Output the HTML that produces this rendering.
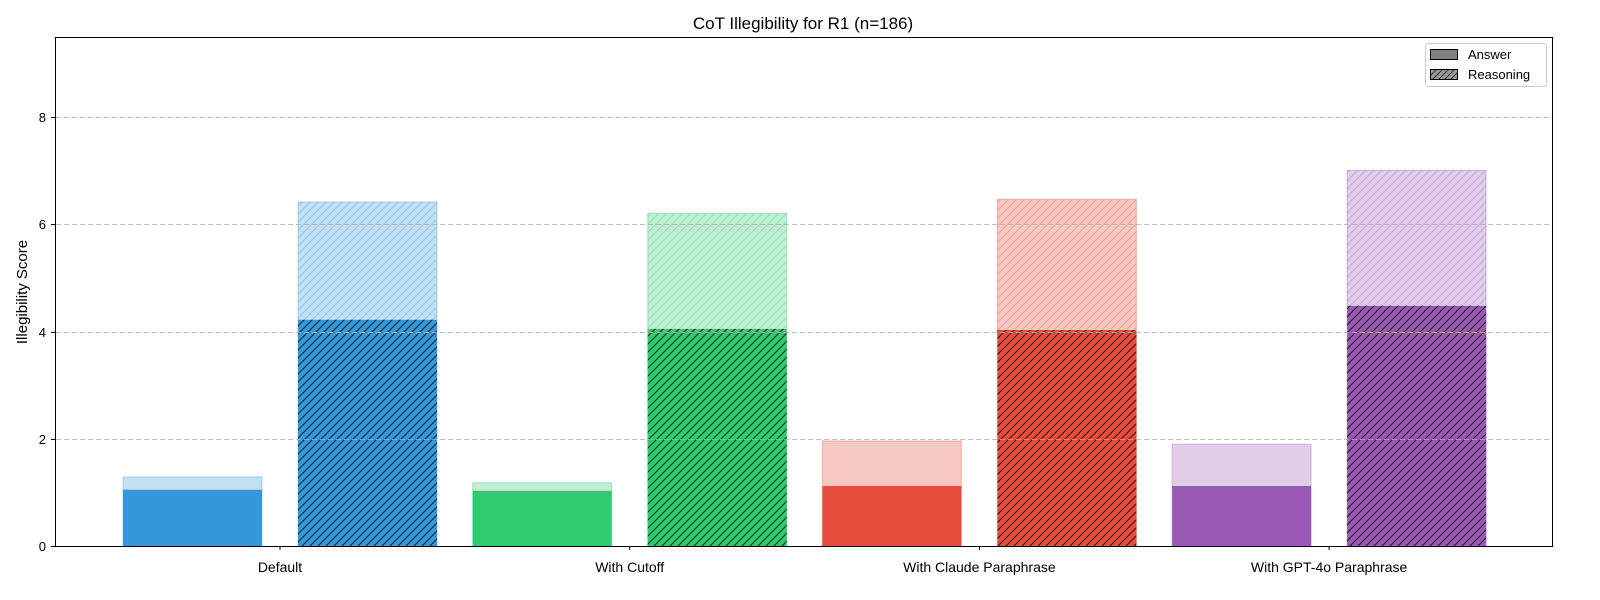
<!DOCTYPE html>
<html><head><meta charset="utf-8"><style>body{margin:0;background:#fff}svg{display:block;font-family:"Liberation Sans",sans-serif}</style></head>
<body>
<svg id="c" width="1600" height="600" xmlns="http://www.w3.org/2000/svg">
<defs>
<pattern id="hk" patternUnits="userSpaceOnUse" width="8" height="8"><path d="M-2,10 L10,-2 M-2,2 L2,-2 M6,10 L10,6" stroke="#000" stroke-width="1"/></pattern>
<pattern id="hb" patternUnits="userSpaceOnUse" width="8" height="8"><path d="M-2,10 L10,-2 M-2,2 L2,-2 M6,10 L10,6" stroke="#3498db" stroke-opacity="0.35" stroke-width="1"/></pattern>
<pattern id="hg" patternUnits="userSpaceOnUse" width="8" height="8"><path d="M-2,10 L10,-2 M-2,2 L2,-2 M6,10 L10,6" stroke="#2ecc71" stroke-opacity="0.35" stroke-width="1"/></pattern>
<pattern id="hr" patternUnits="userSpaceOnUse" width="8" height="8"><path d="M-2,10 L10,-2 M-2,2 L2,-2 M6,10 L10,6" stroke="#e74c3c" stroke-opacity="0.35" stroke-width="1"/></pattern>
<pattern id="hp" patternUnits="userSpaceOnUse" width="8" height="8"><path d="M-2,10 L10,-2 M-2,2 L2,-2 M6,10 L10,6" stroke="#9b59b6" stroke-opacity="0.35" stroke-width="1"/></pattern>
<pattern id="hl" patternUnits="userSpaceOnUse" width="6" height="6"><path d="M-2,8 L8,-2 M-2,2 L2,-2 M4,8 L8,4" stroke="#333" stroke-width="1"/></pattern>
</defs>
<g id="bars"></g><g id="grid"></g>
<rect x="55.5" y="37.5" width="1497" height="509" fill="none" stroke="#000" stroke-width="1"/>
<text x="803" y="29" font-size="17" text-anchor="middle">CoT Illegibility for R1 (n=186)</text>
<text transform="translate(27,292) rotate(-90)" font-size="15" text-anchor="middle">Illegibility Score</text>
<g id="ticks"></g><g id="xl"></g>
<g>
<rect x="1425.5" y="43.5" width="121" height="43" rx="3" fill="#fff" stroke="#ccc"/>
<rect x="1430.5" y="49.5" width="27" height="10" fill="#808080" stroke="#000"/>
<text x="1468" y="59" font-size="13">Answer</text>
<rect x="1430.5" y="69.5" width="27" height="10" fill="#999"/>
<rect x="1430.5" y="69.5" width="27" height="10" fill="url(#hl)" stroke="#000"/>
<text x="1468" y="79" font-size="13">Reasoning</text>
</g>
</svg>
<script>
const categories=["Default","With Cutoff","With Claude Paraphrase","With GPT-4o Paraphrase"];
const answerMain=[1.05,1.03,1.12,1.12];
const answerTotal=[1.29,1.18,1.96,1.90];
const reasoningMain=[4.22,4.05,4.03,4.48];
const reasoningTotal=[6.42,6.21,6.47,7.01];
const yTicks=[0,2,4,6,8];
const colors=["#3498db","#2ecc71","#e74c3c","#9b59b6"];
const hatchIds=["hb","hg","hr","hp"];
const NS="http://www.w3.org/2000/svg";
const y0=546,pxu=53.6;
const Y=v=>y0-v*pxu;
const X=i=>280+i*349.7;
function mk(tag,attrs,parent){const e=document.createElementNS(NS,tag);for(const k in attrs)e.setAttribute(k,attrs[k]);parent.appendChild(e);return e;}
const bars=document.getElementById('bars'),grid=document.getElementById('grid'),ticks=document.getElementById('ticks'),xl=document.getElementById('xl');
const bw=139;
categories.forEach((c,i)=>{
  const xa=X(i)-157,xr=X(i)+18;
  let e=mk('rect',{x:xa,y:Y(answerTotal[i]),width:bw,height:answerTotal[i]*pxu,fill:colors[i],'fill-opacity':0.3,stroke:colors[i],'stroke-opacity':0.35},bars);
  
  
  e=mk('rect',{x:xa,y:Y(answerMain[i]),width:bw,height:answerMain[i]*pxu,fill:colors[i]},bars);
  
  
  e=mk('rect',{x:xr,y:Y(reasoningTotal[i]),width:bw,height:reasoningTotal[i]*pxu,fill:colors[i],'fill-opacity':0.3,stroke:colors[i],'stroke-opacity':0.35},bars);
  
  
  mk('rect',{x:xr,y:Y(reasoningTotal[i]),width:bw,height:reasoningTotal[i]*pxu,fill:'url(#'+hatchIds[i]+')'},bars);
  e=mk('rect',{x:xr,y:Y(reasoningMain[i]),width:bw,height:reasoningMain[i]*pxu,fill:colors[i]},bars);
  
  
  mk('rect',{x:xr,y:Y(reasoningMain[i]),width:bw,height:reasoningMain[i]*pxu,fill:'url(#hk)','fill-opacity':0.8},bars);
  mk('line',{x1:X(i),x2:X(i),y1:546,y2:550,stroke:'#000'},ticks);
  e=mk('text',{x:X(i),y:572,'font-size':14,'text-anchor':'middle'},xl);
  e.textContent=c;
  
  
});
yTicks.forEach(v=>{
  const y=Math.round(Y(v))+0.5;
  if(v>0)mk('line',{x1:56,x2:1552,y1:y,y2:y,stroke:'#b0b0b0','stroke-dasharray':'5,3','stroke-opacity':0.8},grid);
  mk('line',{x1:51,x2:55,y1:y,y2:y,stroke:'#000'},ticks);
  const e=mk('text',{x:46,y:y+4.5,'font-size':13,'text-anchor':'end'},ticks);
  e.textContent=v;
  
  
});
</script>
</body></html>
